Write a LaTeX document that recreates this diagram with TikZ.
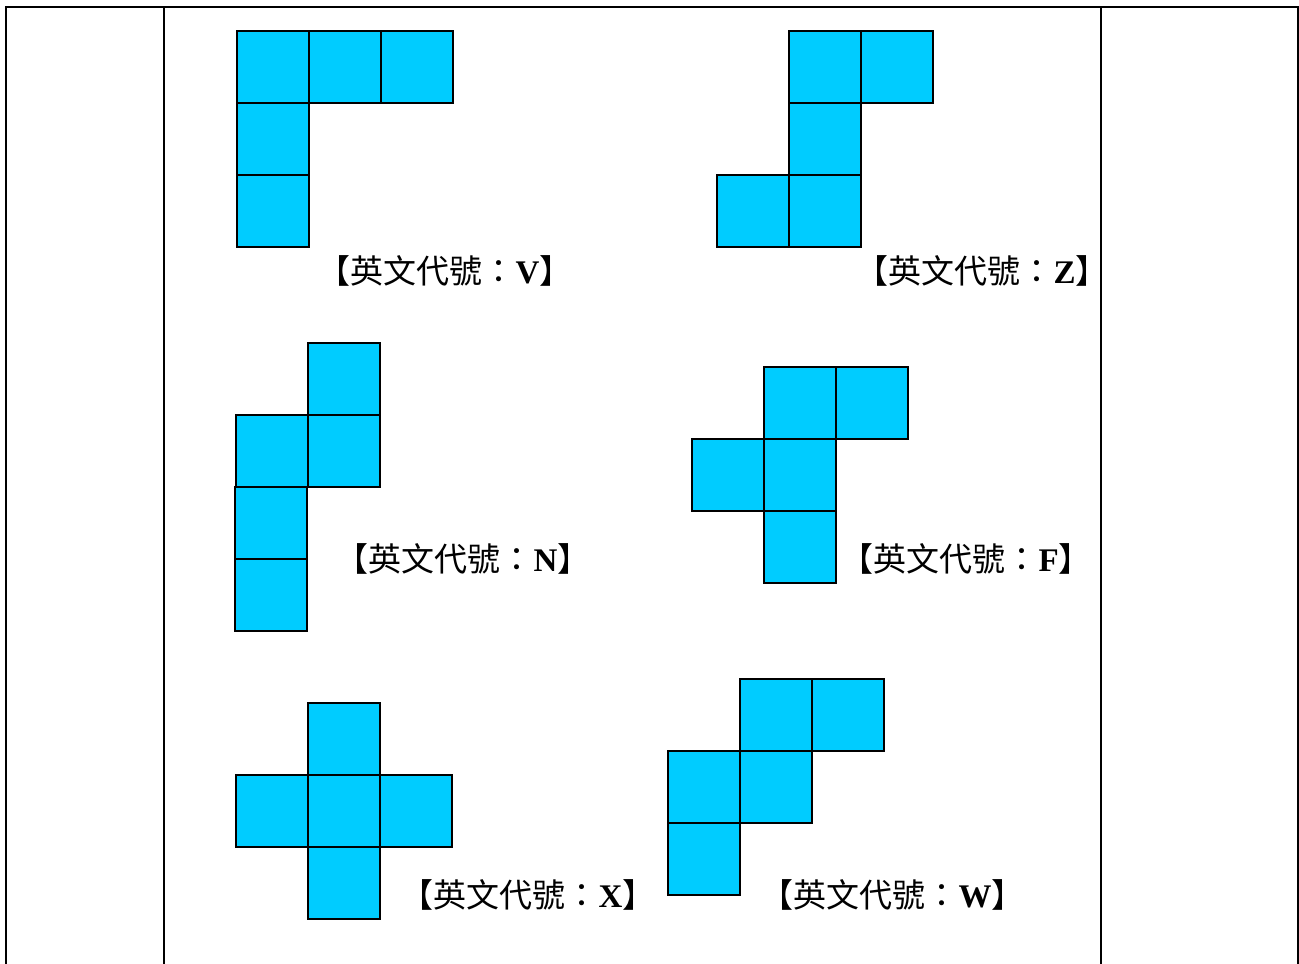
\documentclass[tikz,border=0pt]{standalone}
\usepackage{fontspec}
\setmainfont{Liberation Serif}
\newfontfamily\cjk{Noto Sans CJK TC}
\definecolor{cellblue}{RGB}{0,204,255}
\tikzset{
  cellbox/.style={draw=black, fill=cellblue, line width=1.5pt},
  rule/.style={draw=black, line width=2pt},
  lab/.style={anchor=base west, inner sep=0pt, font=\fontsize{33}{39}\selectfont}
}
\newcommand{\codelabel}[1]{{\cjk\kern-0.5em【英文代號：}{\bfseries #1}{\cjk】\kern-0.5em}}
\begin{document}
\begin{tikzpicture}[x=1pt,y=-1pt]
\useasboundingbox (0,0) rectangle (1299,964);
% table rules
\coordinate (tl) at (6,7);
\coordinate (tr) at (1298,7);
\draw[rule] (6,964) -- (tl) -- (tr) -- (1298,964);
\draw[rule] (164,7) -- (164,964);
\draw[rule] (1101,7) -- (1101,964);
% V
\foreach \x/\y in {237/31,309/31,381/31,237/103,237/175}
  \draw[cellbox] (\x,\y) rectangle ++(72,72);
% Z
\foreach \x/\y in {789/31,861/31,789/103,717/175,789/175}
  \draw[cellbox] (\x,\y) rectangle ++(72,72);
% N
\foreach \x/\y in {308/343,236/415,308/415,235/487,235/559}
  \draw[cellbox] (\x,\y) rectangle ++(72,72);
% F
\foreach \x/\y in {764/367,836/367,692/439,764/439,764/511}
  \draw[cellbox] (\x,\y) rectangle ++(72,72);
% X
\foreach \x/\y in {308/703,236/775,308/775,380/775,308/847}
  \draw[cellbox] (\x,\y) rectangle ++(72,72);
% W
\foreach \x/\y in {740/679,812/679,668/751,740/751,668/823}
  \draw[cellbox] (\x,\y) rectangle ++(72,72);
% labels
\node[lab] (labV) at (334,283) {\codelabel{V}};
\node[lab] (labZ) at (872,283) {\codelabel{Z}};
\node[lab] (labN) at (352,571) {\codelabel{N}};
\node[lab] (labF) at (857,571) {\codelabel{F}};
\node[lab] (labX) at (417,907) {\codelabel{X}};
\node[lab] (labW) at (777,907) {\codelabel{W}};
\end{tikzpicture}
\end{document}
